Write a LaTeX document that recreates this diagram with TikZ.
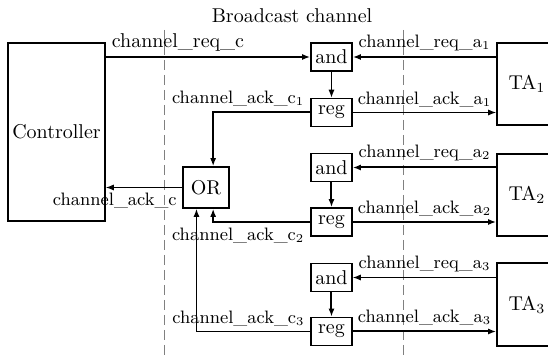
\documentclass[tikz,border=0pt]{standalone}
\usepackage{tikz}
\usetikzlibrary{positioning, arrows.meta, calc}

\begin{document}
\begin{tikzpicture}[x=0.5pt,y=-0.5pt,
    box/.style={draw, line width=0.8pt, inner sep=0pt, minimum width=20.5pt, minimum height=14pt},
    bigbox/.style={draw, line width=0.8pt, inner sep=0pt},
    sig/.style={-{Latex[length=4pt,width=3pt]}, line width=0.5pt},
    bsig/.style={-{Latex[length=4pt,width=3pt]}, line width=1pt},
    lab/.style={inner sep=2.5pt, font=\fontsize{9}{10}\selectfont}]
    \useasboundingbox (0,0) rectangle (548,356);
    \clip (0,0) rectangle (548,356);

    % Broadcast channel borders
    \node (title) at (292,16) {Broadcast channel};
    \draw[gray, dash pattern=on 5pt off 2.5pt] (164,30) -- (164,356);
    \draw[gray, dash pattern=on 5pt off 2.5pt] (403,30) -- (403,356);

    % Controller and automata
    \node[bigbox, minimum width=48.5pt, minimum height=89pt] (ctrl) at (56.5,132) {Controller};
    \node[bigbox, minimum width=30pt, minimum height=41pt] (TA1) at (527,84) {TA$_1$};
    \node[bigbox, minimum width=30pt, minimum height=41pt] (TA2) at (527,195) {TA$_2$};
    \node[bigbox, minimum width=30pt, minimum height=41.5pt] (TA3) at (527,304.5) {TA$_3$};

    % Logic blocks
    \node[box] (and1) at (331.5,57) {and};
    \node[box] (reg1) at (331.5,112.5) {reg};
    \node[box] (and2) at (331.5,167.5) {and};
    \node[box] (reg2) at (331.5,222) {reg};
    \node[box] (and3) at (331.5,277.5) {and};
    \node[box] (reg3) at (331.5,331.5) {reg};
    \node[box, minimum width=23pt, minimum height=20.5pt] (OR) at (206,187.5) {OR};

    % OR inputs
    \coordinate (in1) at ($(OR.north west)!0.65!(OR.north east)$);
    \coordinate (in2) at ($(OR.south west)!0.65!(OR.south east)$);
    \coordinate (in3) at ($(OR.south west)!0.3!(OR.south east)$);

    % Requests
    \draw[bsig] (ctrl.east |- and1.west) -- node[lab, font=\normalsize, above right, pos=0] {channel\_req\_c} (and1.west);
    \draw[bsig] (TA1.west |- and1.east) -- node[lab, above] {channel\_req\_a$_1$} (and1.east);
    \draw[bsig] (TA2.west |- and2.east) -- node[lab, above] {channel\_req\_a$_2$} (and2.east);
    \draw[sig] (TA3.west |- and3.east) -- node[lab, above] {channel\_req\_a$_3$} (and3.east);
    \draw[sig] (and1.south) -- (reg1.north);
    \draw[bsig] (and2.south) -- (reg2.north);
    \draw[bsig] (and3.south) -- (reg3.north);

    % Acknowledges to automata
    \draw[sig] (reg1.east) -- node[lab, above] {channel\_ack\_a$_1$} (reg1.east -| TA1.west);
    \draw[bsig] (reg2.east) -- node[lab, above] {channel\_ack\_a$_2$} (reg2.east -| TA2.west);
    \draw[bsig] (reg3.east) -- node[lab, above] {channel\_ack\_a$_3$} (reg3.east -| TA3.west);

    % Acknowledges to controller
    \draw[bsig] (reg1.west) -- node[lab, above left, pos=0] {channel\_ack\_c$_1$} (reg1.west -| in1) -- (in1);
    \draw[bsig] (reg2.west) -- node[lab, below left, pos=0] {channel\_ack\_c$_2$} (reg2.west -| in2) -- (in2);
    \draw[sig, line width=0.7pt] (reg3.west) -- node[lab, above left, pos=0] {channel\_ack\_c$_3$} (reg3.west -| in3) -- (in3);
    \draw[sig] (OR.west) -- node[lab, below left, pos=0] {channel\_ack\_c} (OR.west -| ctrl.east);
\end{tikzpicture}
\end{document}
